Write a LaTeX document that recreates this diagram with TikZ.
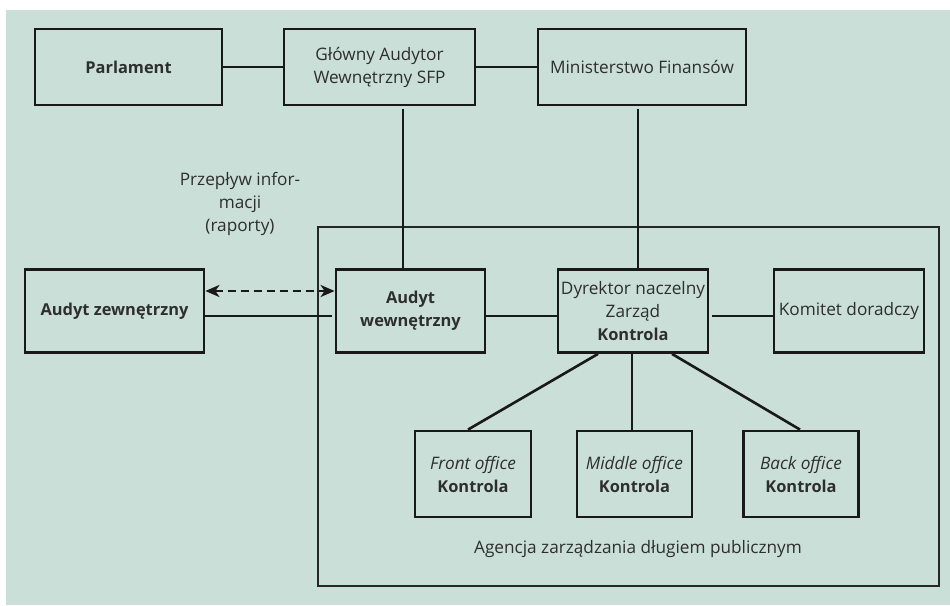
\documentclass[tikz,border=0pt]{standalone}
\usepackage{fontspec}
\setmainfont{Open Sans}
\usepackage{tikz}
\usetikzlibrary{arrows,arrows.meta,shapes}
\definecolor{tlo}{HTML}{CADFD8}
\definecolor{tekst}{HTML}{2E2E2E}
\newcommand{\ramka}{2.8pt}
\newcommand{\cienka}{1.3pt}
\newcommand{\gr}[1]{{\fontsize{16.4}{23}\selectfont\bfseries #1}}

\begin{document}
\begin{tikzpicture}[x=1pt,y=-1pt]
    \tikzset{
        blok/.style = {draw=black!90, line width=\ramka, rectangle, align=center,
                       text=tekst, font=\fontsize{17.2}{23}\selectfont, inner sep=0pt},
        polacz/.style = {draw=black!90, line width=2.6pt},
        opis/.style = {text=tekst, align=center, font=\fontsize{17.2}{23}\selectfont}
    }
    %\draw[help lines] (0,0) grid (950,605);
    \useasboundingbox (0,0) rectangle (950,605);
    \fill[tlo] (6,10) rectangle (950,605);

    % agencja
    \draw[black!85, line width=\cienka] (318,227) rectangle (939,586);
    \node[opis] (agencja) at (638,549) {Agencja zarządzania długiem publicznym};

    \node[blok, minimum width=187, minimum height=76] (parl) at (128.5,67) {\gr{Parlament}};
    \node[blok, minimum width=191, minimum height=76] (gaw) at (379.5,67) {Główny Audytor\\Wewnętrzny SFP};
    \node[blok, minimum width=208, minimum height=76] (mf) at (642,67) {Ministerstwo Finansów};

    \node[blok, minimum width=179, minimum height=83] (azew) at (114.5,311) {\gr{Audyt zewnętrzny}};
    \node[blok, minimum width=149, minimum height=83] (awew) at (410.5,311) {\gr{Audyt}\\\gr{wewnętrzny}};
    \node[blok, minimum width=150, minimum height=83] (dyr) at (633,311) {Dyrektor naczelny\\Zarząd\\\gr{Kontrola}};
    \node[blok, minimum width=150, minimum height=83] (kom) at (849,311) {Komitet doradczy};

    \node[blok, minimum width=116, minimum height=86] (front) at (473,474) {\textit{Front office}\\\gr{Kontrola}};
    \node[blok, minimum width=115, minimum height=86] (middle) at (634.5,474) {\textit{Middle office}\\\gr{Kontrola}};
    \node[blok, minimum width=115, minimum height=86] (back) at (801,474) {\textit{Back office}\\\gr{Kontrola}};

    \node[opis] (info) at (240,204) {Przepływ infor-\\macji\\(raporty)};

    \draw[polacz] (parl.east) -- (gaw.west);
    \draw[polacz] (gaw.east) -- (mf.west);
    \draw[polacz] ([xshift=23.5pt,yshift=-3pt]gaw.south) -- ([xshift=-7.5pt]awew.north);
    \draw[polacz] ([xshift=-4pt,yshift=-3pt]mf.south) -- ([xshift=5pt]dyr.north);

    \draw[polacz, dash pattern=on 8pt off 5pt, {Stealth[length=14pt,width=12pt,inset=4pt]}-{Stealth[length=14pt,width=12pt,inset=4pt]}]
        ([yshift=20pt]azew.east) -- ([yshift=20pt]awew.west);
    \draw[polacz] ([yshift=-5pt]azew.east) -- ([xshift=-3pt,yshift=-5pt]awew.west);
    \draw[polacz] ([yshift=-5pt]awew.east) -- ([yshift=-5pt]dyr.west);
    \draw[polacz] ([xshift=3pt,yshift=-5pt]dyr.east) -- ([yshift=-5pt]kom.west);

    \draw[polacz] ([xshift=-35pt]dyr.south) -- ([xshift=-5pt]front.north);
    \draw[draw=black!90, line width=\cienka] ([xshift=-1pt]dyr.south) -- ([xshift=-2.5pt]middle.north);
    \draw[polacz] ([xshift=39pt]dyr.south) -- ([xshift=-1pt]back.north);
\end{tikzpicture}
\end{document}
